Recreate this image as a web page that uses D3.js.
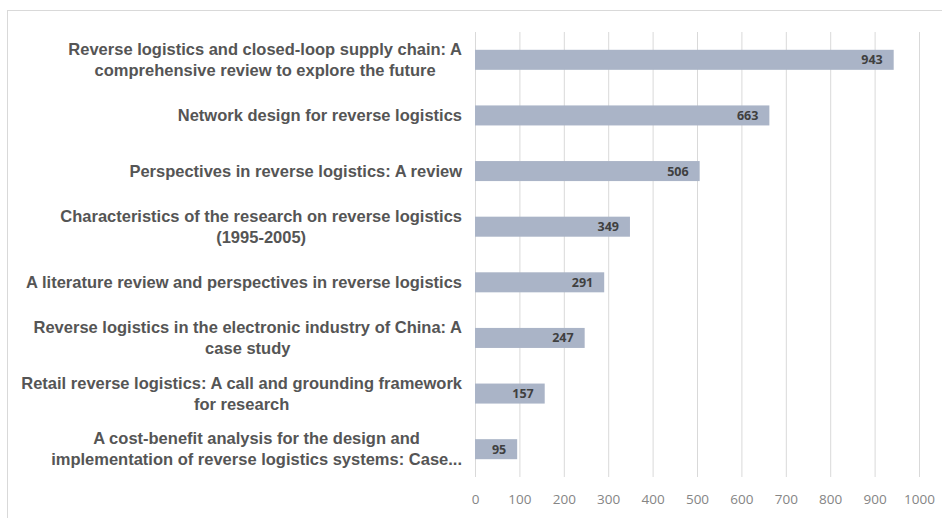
<!DOCTYPE html>
<html>
<head>
<meta charset="utf-8">
<script src="https://cdn.jsdelivr.net/npm/d3@7"></script>
<style>
  body { margin: 0; background: #fff; }
  svg { display: block; font-family: "Liberation Sans", Arial, sans-serif; }
</style>
</head>
<body>
<div id="chart"></div>
<script>
const titles = [
  "Reverse logistics and closed-loop supply chain: A\ncomprehensive review to explore the future",
  "Network design for reverse logistics",
  "Perspectives in reverse logistics: A review",
  "Characteristics of the research on reverse logistics\n(1995-2005)",
  "A literature review and perspectives in reverse logistics",
  "Reverse logistics in the electronic industry of China: A\ncase study",
  "Retail reverse logistics: A call and grounding framework\nfor research",
  "A cost-benefit analysis for the design and\nimplementation of reverse logistics systems: Case..."
];
const citations = [943, 663, 506, 349, 291, 247, 157, 95];
const xTicks = [0, 100, 200, 300, 400, 500, 600, 700, 800, 900, 1000];

const width = 942, height = 518;
const plotLeft = 475, plotRight = 919, plotTop = 32, plotBottom = 477;

const svg = d3.select("#chart").append("svg")
  .attr("width", width)
  .attr("height", height);

// outer frame
svg.append("rect")
  .attr("x", 7.5).attr("y", 10.5)
  .attr("width", width).attr("height", height)
  .attr("fill", "none")
  .attr("stroke", "#d9d9d9");

const x = d3.scaleLinear().domain([0, 1000]).range([plotLeft, plotRight]);
const y = d3.scaleBand().domain(titles).range([plotTop, plotBottom]).paddingInner(0.64).paddingOuter(0.32);

// gridlines
svg.append("g")
  .selectAll("line")
  .data(xTicks)
  .join("line")
  .attr("x1", d => x(d) + 0.5).attr("x2", d => x(d) + 0.5)
  .attr("y1", plotTop).attr("y2", plotBottom)
  .attr("stroke", "#d9d9d9")
  .attr("stroke-width", 1);

// x axis labels
svg.append("g")
  .attr("transform", `translate(0, ${plotBottom + 17})`)
  .call(d3.axisBottom(x).tickValues(xTicks).tickFormat(d3.format("d")).tickSize(0).tickPadding(0))
  .call(g => g.select(".domain").remove())
  .call(g => g.selectAll("text")
    .attr("fill", "#858585")
    .attr("font-size", 13.5)
    .attr("font-family", "'Open Sans', sans-serif"));

// bars
svg.append("g")
  .selectAll("rect")
  .data(titles)
  .join("rect")
  .attr("x", x(0))
  .attr("y", d => y(d))
  .attr("width", (d, i) => x(citations[i]) - x(0))
  .attr("height", y.bandwidth())
  .attr("fill", "#aab4c7");

// value labels
svg.append("g")
  .selectAll("text")
  .data(titles)
  .join("text")
  .attr("x", (d, i) => x(citations[i]) - 11)
  .attr("y", d => y(d) + y.bandwidth() / 2)
  .attr("dy", "0.36em")
  .attr("text-anchor", "end")
  .attr("font-size", 12.5)
  .attr("font-weight", "bold")
  .attr("font-family", "'Open Sans', sans-serif")
  .attr("fill", "#404040")
  .text((d, i) => citations[i]);

// category labels
const labels = svg.append("g")
  .selectAll("text")
  .data(titles)
  .join("text")
  .attr("text-anchor", "middle")
  .attr("font-size", 16.5)
  .attr("font-weight", "bold")
  .attr("fill", "#555555")
  .attr("transform", d => `translate(0, ${y(d) + y.bandwidth() / 2})`);

labels.each(function (d) {
  const lines = d.split("\n");
  const t = d3.select(this);
  const lineH = 21;
  lines.forEach((ln, k) => {
    t.append("tspan")
      .attr("y", (k - (lines.length - 1) / 2) * lineH)
      .attr("dy", "0.35em")
      .text(ln);
  });
  // centre the block, right edge at 462
  const spans = t.selectAll("tspan").nodes();
  const maxW = d3.max(spans, s => s.getComputedTextLength());
  t.selectAll("tspan").attr("x", 462 - maxW / 2);
});
</script>
</body>
</html>
